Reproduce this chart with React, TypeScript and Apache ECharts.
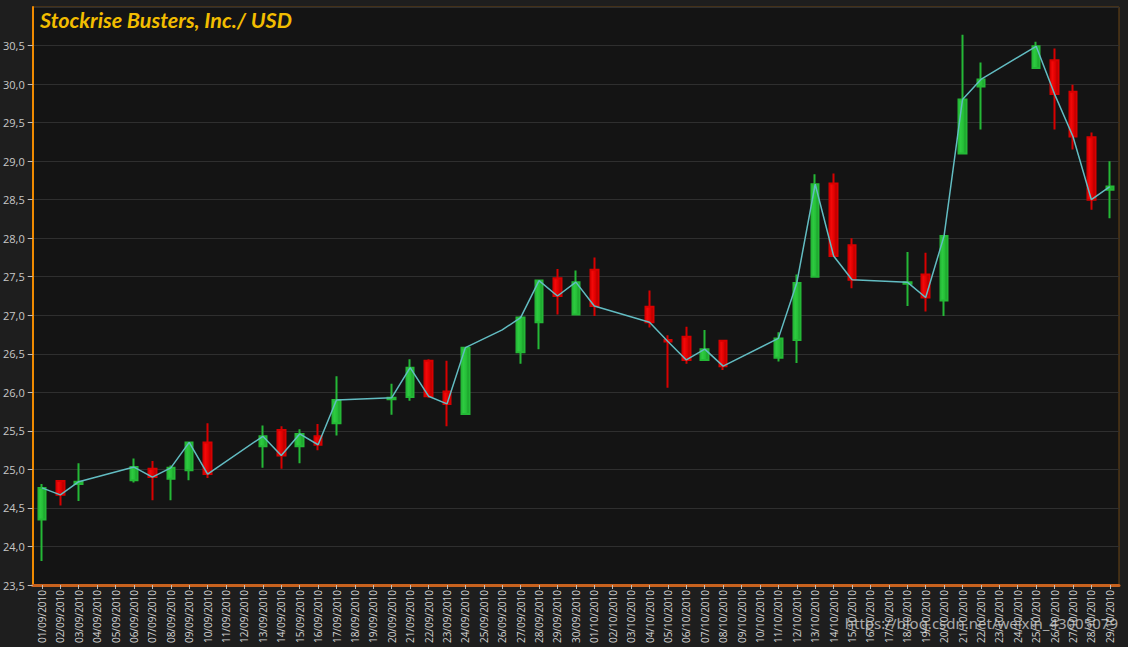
import React, { useEffect, useRef } from "react";
import * as echarts from "echarts";

const categories = [
  "01/09/2010", "02/09/2010", "03/09/2010", "04/09/2010", "05/09/2010", "06/09/2010", "07/09/2010",
  "08/09/2010", "09/09/2010", "10/09/2010", "11/09/2010", "12/09/2010", "13/09/2010", "14/09/2010",
  "15/09/2010", "16/09/2010", "17/09/2010", "18/09/2010", "19/09/2010", "20/09/2010", "21/09/2010",
  "22/09/2010", "23/09/2010", "24/09/2010", "25/09/2010", "26/09/2010", "27/09/2010", "28/09/2010",
  "29/09/2010", "30/09/2010", "01/10/2010", "02/10/2010", "03/10/2010", "04/10/2010", "05/10/2010",
  "06/10/2010", "07/10/2010", "08/10/2010", "09/10/2010", "10/10/2010", "11/10/2010", "12/10/2010",
  "13/10/2010", "14/10/2010", "15/10/2010", "16/10/2010", "17/10/2010", "18/10/2010", "19/10/2010",
  "20/10/2010", "21/10/2010", "22/10/2010", "23/10/2010", "24/10/2010", "25/10/2010", "26/10/2010",
  "27/10/2010", "28/10/2010", "29/10/2010",
];

const candleDays = [
  "01/09/2010", "02/09/2010", "03/09/2010", "06/09/2010", "07/09/2010", "08/09/2010", "09/09/2010",
  "10/09/2010", "13/09/2010", "14/09/2010", "15/09/2010", "16/09/2010", "17/09/2010", "20/09/2010",
  "21/09/2010", "22/09/2010", "23/09/2010", "24/09/2010", "27/09/2010", "28/09/2010", "29/09/2010",
  "30/09/2010", "01/10/2010", "04/10/2010", "05/10/2010", "06/10/2010", "07/10/2010", "08/10/2010",
  "11/10/2010", "12/10/2010", "13/10/2010", "14/10/2010", "15/10/2010", "18/10/2010", "19/10/2010",
  "20/10/2010", "21/10/2010", "22/10/2010", "25/10/2010", "26/10/2010", "27/10/2010", "28/10/2010",
  "29/10/2010",
];
const opens = [
  24.35, 24.85, 24.81, 24.86, 25.01, 24.88, 24.99, 25.35, 25.30, 25.51, 25.30, 25.43, 25.60, 25.91,
  25.94, 26.41, 26.01, 25.72, 26.52, 26.91, 27.48, 27.01, 27.59, 27.11, 26.68, 26.72, 26.42, 26.67,
  26.45, 26.68, 27.50, 28.71, 27.91, 27.41, 27.53, 27.19, 29.10, 29.97, 30.21, 30.31, 29.90, 29.31,
  28.63,
];
const closes = [
  24.76, 24.67, 24.84, 25.03, 24.90, 25.02, 25.35, 24.94, 25.43, 25.18, 25.46, 25.32, 25.90, 25.93,
  26.32, 25.95, 25.85, 26.58, 26.97, 27.45, 27.25, 27.43, 27.12, 26.91, 26.66, 26.42, 26.56, 26.34,
  26.70, 27.42, 28.70, 27.77, 27.46, 27.43, 27.23, 28.03, 29.80, 30.06, 30.49, 29.87, 29.32, 28.50,
  28.67,
];
const lows = [
  23.81, 24.53, 24.59, 24.83, 24.60, 24.60, 24.86, 24.89, 25.02, 25.01, 25.08, 25.25, 25.44, 25.71,
  25.89, 25.93, 25.56, 25.71, 26.37, 26.56, 27.01, 27.00, 26.99, 26.84, 26.06, 26.37, 26.41, 26.29,
  26.40, 26.38, 27.50, 27.77, 27.35, 27.12, 27.05, 26.99, 29.10, 29.41, 30.21, 29.41, 29.15, 28.37,
  28.26,
];
const highs = [
  24.81, 24.85, 25.08, 25.14, 25.11, 25.05, 25.36, 25.60, 25.57, 25.56, 25.52, 25.59, 26.21, 26.11,
  26.43, 26.43, 26.41, 26.59, 26.99, 27.46, 27.60, 27.58, 27.75, 27.32, 26.74, 26.85, 26.81, 26.67,
  26.78, 27.53, 28.83, 28.84, 28.00, 27.82, 27.81, 28.03, 30.64, 30.28, 30.55, 30.46, 29.99, 29.37,
  29.00,
];

const extraLineDays = ["26/09/2010"];
const extraLineValues = [26.81];

const TITLE = "Stockrise Busters, Inc./ USD";
const WATERMARK = "https://blog.csdn.net/weixin_43005079";

export default function App() {
  const ref = useRef<HTMLDivElement>(null);

  useEffect(() => {
    if (!ref.current) return;
    const chart = echarts.init(ref.current, undefined, { renderer: "svg" });

    const candleData = candleDays.map((d, i) => [
      categories.indexOf(d),
      opens[i],
      closes[i],
      lows[i],
      highs[i],
    ]);
    const linePts: [number, number][] = candleDays.map((d, i) => [categories.indexOf(d), closes[i]]);
    extraLineDays.forEach((d, i) => linePts.push([categories.indexOf(d), extraLineValues[i]]));
    linePts.sort((a, b) => a[0] - b[0]);

    const upFill = new echarts.graphic.LinearGradient(0, 0, 1, 0, [
      { offset: 0, color: "#34d247" },
      { offset: 0.6, color: "#25bf37" },
      { offset: 1, color: "#178c25" },
    ]);
    const downFill = new echarts.graphic.LinearGradient(0, 0, 1, 0, [
      { offset: 0, color: "#ff1010" },
      { offset: 0.6, color: "#e00000" },
      { offset: 1, color: "#9c0000" },
    ]);

    chart.setOption({
      animation: false,
      backgroundColor: "#1e1e1e",
      grid: {
        left: 29,
        top: 7,
        width: 1090,
        height: 578,
        show: true,
        backgroundColor: "#141414",
        borderColor: "#6b4514",
        borderWidth: 1,
      },
      graphic: [
        {
          type: "text",
          left: 40,
          top: 9,
          z: 100,
          style: {
            text: TITLE,
            fill: "#f2bd00",
            font: "italic bold 21.5px Lato",
          },
        },
        {
          type: "text",
          right: 10,
          top: 615,
          z: 100,
          style: {
            text: WATERMARK,
            fill: "rgba(225,225,225,0.72)",
            font: "15px 'Noto Sans'",
          },
        },
      ],
      xAxis: {
        type: "category",
        data: categories,
        boundaryGap: true,
        axisLine: { show: true, lineStyle: { color: "#c8621e", width: 3 } },
        axisTick: {
          show: true,
          alignWithLabel: true,
          interval: 0,
          length: 4,
          lineStyle: { color: "#bdbdbd" },
        },
        axisLabel: {
          interval: 0,
          rotate: 90,
          margin: 5,
          color: "#d4d4d4",
          fontSize: 10,
          fontFamily: "Open Sans",
        },
        splitLine: { show: false },
      },
      yAxis: {
        type: "value",
        min: 23.5,
        max: 31,
        interval: 0.5,
        axisLine: { show: true, lineStyle: { color: "#f08a00", width: 2 } },
        axisTick: { show: true, length: 5, lineStyle: { color: "#bdbdbd" } },
        axisLabel: {
          showMaxLabel: false,
          color: "#c8c8c8",
          fontSize: 11,
          fontFamily: "Open Sans",
          margin: 8,
          formatter: (v: number) => v.toFixed(1).replace(".", ","),
        },
        splitLine: { show: true, lineStyle: { color: "#2f2f2f", width: 1 } },
      },
      series: [
        {
          type: "candlestick",
          data: candleData,
          encode: { x: 0, y: [1, 2, 3, 4] },
          barWidth: 8,
          itemStyle: {
            color: upFill,
            color0: downFill,
            borderColor: "#24b836",
            borderColor0: "#d80000",
            borderWidth: 2,
          },
          z: 2,
        },
        {
          type: "line",
          data: linePts,
          symbol: "none",
          connectNulls: true,
          lineStyle: { color: "#62bcc2", width: 1.5 },
          z: 3,
        },
      ],
    });

    return () => chart.dispose();
  }, []);

  return (
    <div
      ref={ref}
      style={{ position: "absolute", left: 0, top: 0, width: 1128, height: 647 }}
    />
  );
}
